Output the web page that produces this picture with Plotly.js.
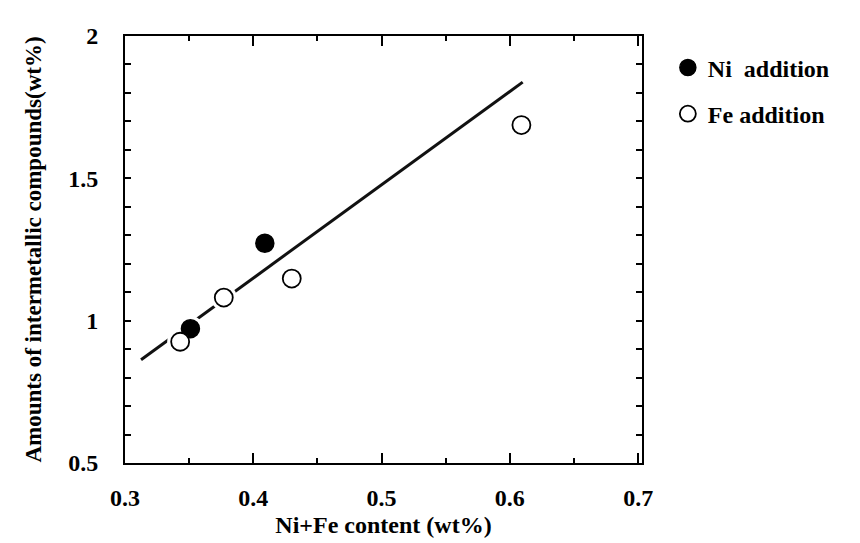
<!DOCTYPE html>
<html>
<head>
<meta charset="utf-8">
<script src="https://cdn.plot.ly/plotly-3.0.1.min.js"></script>
<style>body{margin:0;background:#fff}#chart{width:860px;height:543px}</style>
</head>
<body>
<div id="chart"></div>
<script>
// Data
const niX = [0.351, 0.409];
const niY = [0.972, 1.272];
const feX = [0.343, 0.377, 0.430, 0.609];
const feY = [0.926, 1.081, 1.148, 1.687];
const fitX = [0.3125, 0.610];
const fitY = [0.863, 1.838];
const xTicks = [0.3, 0.4, 0.5, 0.6, 0.7];
const yTicks = [0.5, 1, 1.5, 2];

const FONT = 'Liberation Serif, Times New Roman, serif';

const traces = [
  {x: fitX, y: fitY, mode: 'lines', line: {color: '#111', width: 3}, showlegend: false, hoverinfo: 'skip'},
  {x: niX.concat(feX), y: niY.concat(feY), mode: 'markers', showlegend: false, hoverinfo: 'skip',
   marker: {symbol: 'circle', size: 26, color: '#fff', line: {width: 0}}},
  {x: niX, y: niY, mode: 'markers', name: 'Ni  addition', legendgroup: 'ni',
   marker: {symbol: 'circle', size: 18, color: '#000', line: {color: '#000', width: 1.5}}},
  {x: feX, y: feY, mode: 'markers', name: 'Fe addition', legendgroup: 'fe',
   marker: {symbol: 'circle', size: 18, color: '#fff', line: {color: '#000', width: 1.8}}}
];

const layout = {
  width: 860, height: 543,
  margin: {l: 125, r: 218, t: 36, b: 80},
  paper_bgcolor: '#fff', plot_bgcolor: '#fff',
  font: {family: FONT, color: '#000', size: 20},
  xaxis: {
    range: [0.3, 0.703], tickvals: xTicks, ticktext: xTicks.map(v => v.toFixed(1)),
    ticks: 'inside', ticklen: 10, tickwidth: 2, tickcolor: '#000',
    minor: {dtick: 0.05, ticks: 'inside', ticklen: 5, tickwidth: 2, tickcolor: '#000'},
    showline: true, linecolor: '#000', linewidth: 2, mirror: 'ticks',
    showgrid: false, zeroline: false, ticklabelstandoff: 12,
    tickfont: {family: FONT, size: 24, weight: 'bold'},
    title: {text: '<b>Ni+Fe content (wt%)</b>', font: {family: FONT, size: 24}, standoff: 6}
  },
  yaxis: {
    range: [0.5, 2], tickvals: yTicks, ticktext: yTicks.map(v => String(v)),
    ticks: 'inside', ticklen: 6, tickwidth: 2, tickcolor: '#000',
    minor: {dtick: 0.1, ticks: 'inside', ticklen: 6, tickwidth: 2, tickcolor: '#000'},
    showline: true, linecolor: '#000', linewidth: 2, mirror: 'ticks',
    showgrid: false, zeroline: false, ticklabelstandoff: 20,
    tickfont: {family: FONT, size: 24, weight: 'bold'},
    title: {text: '<b>Amounts of intermetallic compounds(wt%)</b>', font: {family: FONT, size: 23}, standoff: 20}
  },
  legend: {
    x: 1.05, y: 0.978, xanchor: 'left', yanchor: 'top',
    font: {family: FONT, size: 24, weight: 'bold'},
    bgcolor: 'rgba(0,0,0,0)', tracegroupgap: 12, traceorder: 'grouped'
  },
  showlegend: true
};

Plotly.newPlot('chart', traces, layout, {displayModeBar: false, staticPlot: true});
</script>
</body>
</html>
